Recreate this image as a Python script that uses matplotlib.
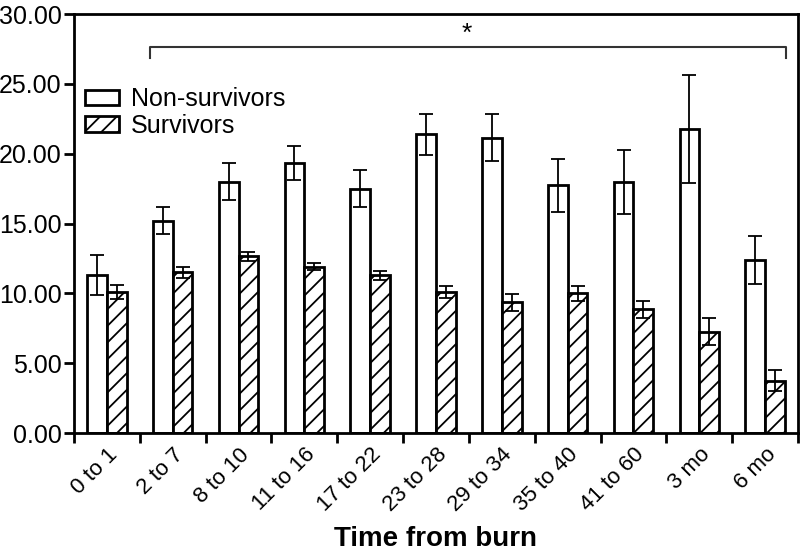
#!/usr/bin/env python3
"""Non-survivors vs survivors by time from burn, grouped bars with SEM."""

import matplotlib
matplotlib.use('Agg')
import matplotlib.pyplot as plt
import numpy as np

plt.rcParams['font.family'] = ['Liberation Sans', 'DejaVu Sans']
plt.rcParams['hatch.linewidth'] = 1.3

categories = ['0 to 1', '2 to 7', '8 to 10', '11 to 16', '17 to 22', '23 to 28',
              '29 to 34', '35 to 40', '41 to 60', '3 mo', '6 mo']
non_surv = [11.3, 15.2, 18.0, 19.35, 17.5, 21.38, 21.15, 17.75, 18.0, 21.76, 12.38]
non_surv_err = [1.45, 0.97, 1.3, 1.2, 1.3, 1.45, 1.68, 1.9, 2.3, 3.85, 1.7]
surv = [10.07, 11.5, 12.65, 11.92, 11.3, 10.09, 9.35, 10.0, 8.85, 7.25, 3.75]
surv_err = [0.5, 0.4, 0.3, 0.22, 0.32, 0.45, 0.6, 0.55, 0.6, 0.95, 0.75]
yticks = [0, 5, 10, 15, 20, 25, 30]

bracket_y = 27.63
bracket_drop = 0.75
bracket_x = (0.65, 10.32)


def main():
    fig = plt.figure(figsize=(8.0, 5.57), dpi=100)
    ax = fig.add_axes([0.0925, 0.2226, 0.905, 0.7522])

    x = np.arange(len(categories))
    w = 0.3
    err_kw = dict(ecolor='black', elinewidth=1.3, capsize=5, capthick=1.3)
    ax.bar(x - w / 2, non_surv, w, yerr=non_surv_err, color='white',
           edgecolor='black', linewidth=2, error_kw=err_kw, label='Non-survivors')
    ax.bar(x + w / 2, surv, w, yerr=surv_err, color='white', hatch='//',
           edgecolor='black', linewidth=2, error_kw=err_kw, label='Survivors')

    ax.set_xlim(-0.5, len(categories) - 0.5)
    ax.set_ylim(0, 30)
    ax.set_yticks(yticks)
    ax.set_yticklabels([f'{v:.2f}' for v in yticks], fontsize=18)

    # tick marks on group boundaries, labels on group centres
    ax.set_xticks(np.arange(len(categories) + 1) - 0.5)
    ax.set_xticklabels([])
    ax.set_xticks(x, minor=True)
    ax.set_xticklabels(categories, minor=True, rotation=45, ha='right',
                       rotation_mode='anchor', fontsize=16)
    ax.tick_params(axis='x', which='minor', length=0, pad=8)
    ax.tick_params(axis='both', which='major', length=7, width=2, direction='out')
    ax.tick_params(axis='y', pad=2)

    for s in ax.spines.values():
        s.set_linewidth(2)

    ax.set_xlabel('Time from burn', fontsize=20, fontweight='bold')
    ax.xaxis.set_label_coords(0.5, -0.222)

    # significance bracket
    x0, x1 = bracket_x
    ax.plot([x0, x0, x1, x1],
            [bracket_y - bracket_drop, bracket_y, bracket_y, bracket_y - bracket_drop],
            color='#333333', linewidth=1.5, clip_on=False)
    ax.text(5.47, bracket_y + 0.1, '*', ha='center', va='bottom', fontsize=19)

    ax.legend(loc='upper left', bbox_to_anchor=(0.015, 0.825), frameon=False,
              fontsize=18, handlelength=1.35, handleheight=0.6,
              labelspacing=0.1, handletextpad=0.5, borderaxespad=0, borderpad=0)

    fig.savefig('out.png', dpi=100)
    plt.close(fig)


if __name__ == '__main__':
    main()
